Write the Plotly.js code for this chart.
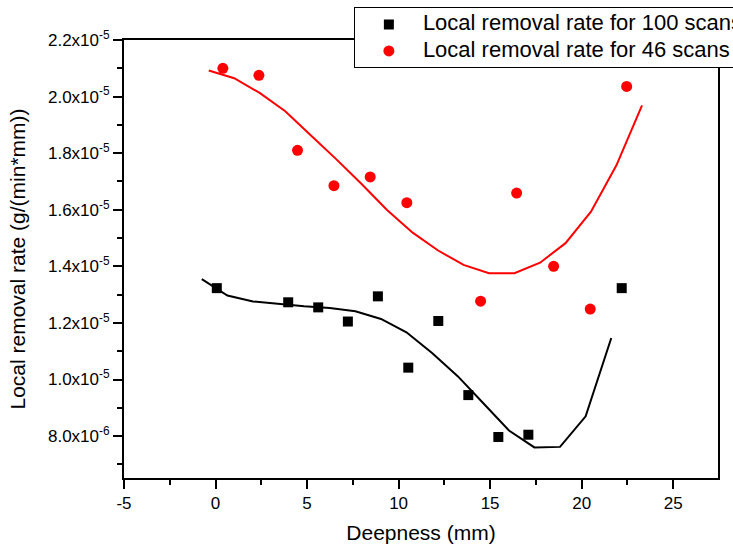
<!DOCTYPE html>
<html>
<head>
<meta charset="utf-8">
<script src="https://cdn.plot.ly/plotly-3.0.1.min.js"></script>
<style>
html,body{margin:0;padding:0;background:#fff;}
#chart{width:733px;height:544px;}
</style>
</head>
<body>
<div id="chart"></div>
<script>
// Measured points
const depth100 = [0.07, 3.97, 5.61, 7.23, 8.87, 10.53, 12.17, 13.81, 15.45, 17.09, 22.19];
const rate100  = [1.323e-5, 1.273e-5, 1.255e-5, 1.205e-5, 1.294e-5, 1.042e-5, 1.207e-5, 9.45e-6, 7.97e-6, 8.05e-6, 1.323e-5];
const depth46  = [0.40, 2.37, 4.48, 6.47, 8.45, 10.45, 14.48, 16.45, 18.47, 20.47, 22.46];
const rate46   = [2.100e-5, 2.075e-5, 1.810e-5, 1.685e-5, 1.716e-5, 1.625e-5, 1.277e-5, 1.659e-5, 1.400e-5, 1.249e-5, 2.036e-5];

// Fitted curves
const fitX100 = [-0.75, 0.65, 2.05, 3.44, 4.84, 6.24, 7.64, 9.04, 10.43, 11.83, 13.23, 14.63, 16.03, 17.42, 18.82, 20.22, 21.62];
const fitY100 = [1.355e-5, 1.297e-5, 1.276e-5, 1.267e-5, 1.259e-5, 1.253e-5, 1.241e-5, 1.214e-5, 1.167e-5, 1.094e-5, 1.012e-5, 9.16e-6, 8.20e-6, 7.60e-6, 7.62e-6, 8.70e-6, 1.147e-5];
const fitX46  = [-0.37, 1.02, 2.41, 3.81, 5.20, 6.59, 7.98, 9.37, 10.77, 12.16, 13.55, 14.94, 16.33, 17.73, 19.12, 20.51, 21.90, 23.30];
const fitY46  = [2.092e-5, 2.065e-5, 2.013e-5, 1.948e-5, 1.863e-5, 1.779e-5, 1.691e-5, 1.599e-5, 1.519e-5, 1.456e-5, 1.405e-5, 1.376e-5, 1.376e-5, 1.413e-5, 1.482e-5, 1.593e-5, 1.757e-5, 1.969e-5];

// Tick labels
const yTickVals = [8e-6, 1.0e-5, 1.2e-5, 1.4e-5, 1.6e-5, 1.8e-5, 2.0e-5, 2.2e-5];
const yTickText = ["8.0x10<sup>-6</sup>", "1.0x10<sup>-5</sup>", "1.2x10<sup>-5</sup>", "1.4x10<sup>-5</sup>", "1.6x10<sup>-5</sup>", "1.8x10<sup>-5</sup>", "2.0x10<sup>-5</sup>", "2.2x10<sup>-5</sup>"];
const xTickVals = [-5, 0, 5, 10, 15, 20, 25];
const xTickText = ["-5", "0", "5", "10", "15", "20", "25"];
const seriesNames = ["Local removal rate for 100 scans", "Local removal rate for 46 scans"];

const FONT = "Liberation Sans, Arial, sans-serif";
const legendLabel = s => '<span style="font-size:22px">' + s + '</span>';

const traces = [
  {x: depth100, y: rate100, type: 'scatter', mode: 'markers', name: legendLabel(seriesNames[0]),
   legendgroup: 'g100', marker: {symbol: 'square', size: 10, color: '#000'}},
  {x: depth46, y: rate46, type: 'scatter', mode: 'markers', name: legendLabel(seriesNames[1]),
   legendgroup: 'g46', marker: {symbol: 'circle', size: 11, color: '#ff0000'}},
  {x: fitX100, y: fitY100, type: 'scatter', mode: 'lines', showlegend: false, legendgroup: 'g100',
   line: {color: '#000', width: 2}},
  {x: fitX46, y: fitY46, type: 'scatter', mode: 'lines', showlegend: false, legendgroup: 'g46',
   line: {color: '#ff0000', width: 2}}
];

const layout = {
  width: 733, height: 544,
  margin: {l: 124, r: 15, t: 40, b: 66, autoexpand: false},
  paper_bgcolor: '#fff', plot_bgcolor: '#fff',
  font: {family: FONT, color: '#000', size: 17},
  showlegend: true,
  legend: {x: 0.387, y: 1.075, xanchor: 'left', yanchor: 'top', traceorder: 'grouped',
           bgcolor: '#fff', bordercolor: '#000', borderwidth: 1, itemwidth: 58,
           font: {family: FONT, size: 15, color: '#000'}, tracegroupgap: 4},
  xaxis: {
    range: [-5, 27.45], showgrid: false, zeroline: false,
    showline: true, linecolor: '#000', linewidth: 2, mirror: true,
    ticks: 'outside', ticklen: 9, tickwidth: 2, tickcolor: '#000',
    tickmode: 'array', tickvals: xTickVals, ticktext: xTickText,
    tickfont: {family: FONT, size: 17},
    minor: {dtick: 2.5, tick0: 0, ticks: 'outside', ticklen: 5, tickwidth: 2, tickcolor: '#000'},
    title: {text: 'Deepness (mm)', font: {family: FONT, size: 21}, standoff: 18}
  },
  yaxis: {
    range: [6.52e-6, 2.2e-5], showgrid: false, zeroline: false,
    showline: true, linecolor: '#000', linewidth: 2, mirror: true,
    ticks: 'outside', ticklen: 9, tickwidth: 2, tickcolor: '#000',
    tickmode: 'array', tickvals: yTickVals, ticktext: yTickText,
    tickfont: {family: FONT, size: 17},
    minor: {dtick: 1e-6, tick0: 0, ticks: 'outside', ticklen: 5, tickwidth: 2, tickcolor: '#000'},
    title: {text: 'Local removal rate (g/(min*mm))', font: {family: FONT, size: 21}, standoff: 17}
  }
};

Plotly.newPlot('chart', traces, layout, {displayModeBar: false, staticPlot: true});
</script>
</body>
</html>
